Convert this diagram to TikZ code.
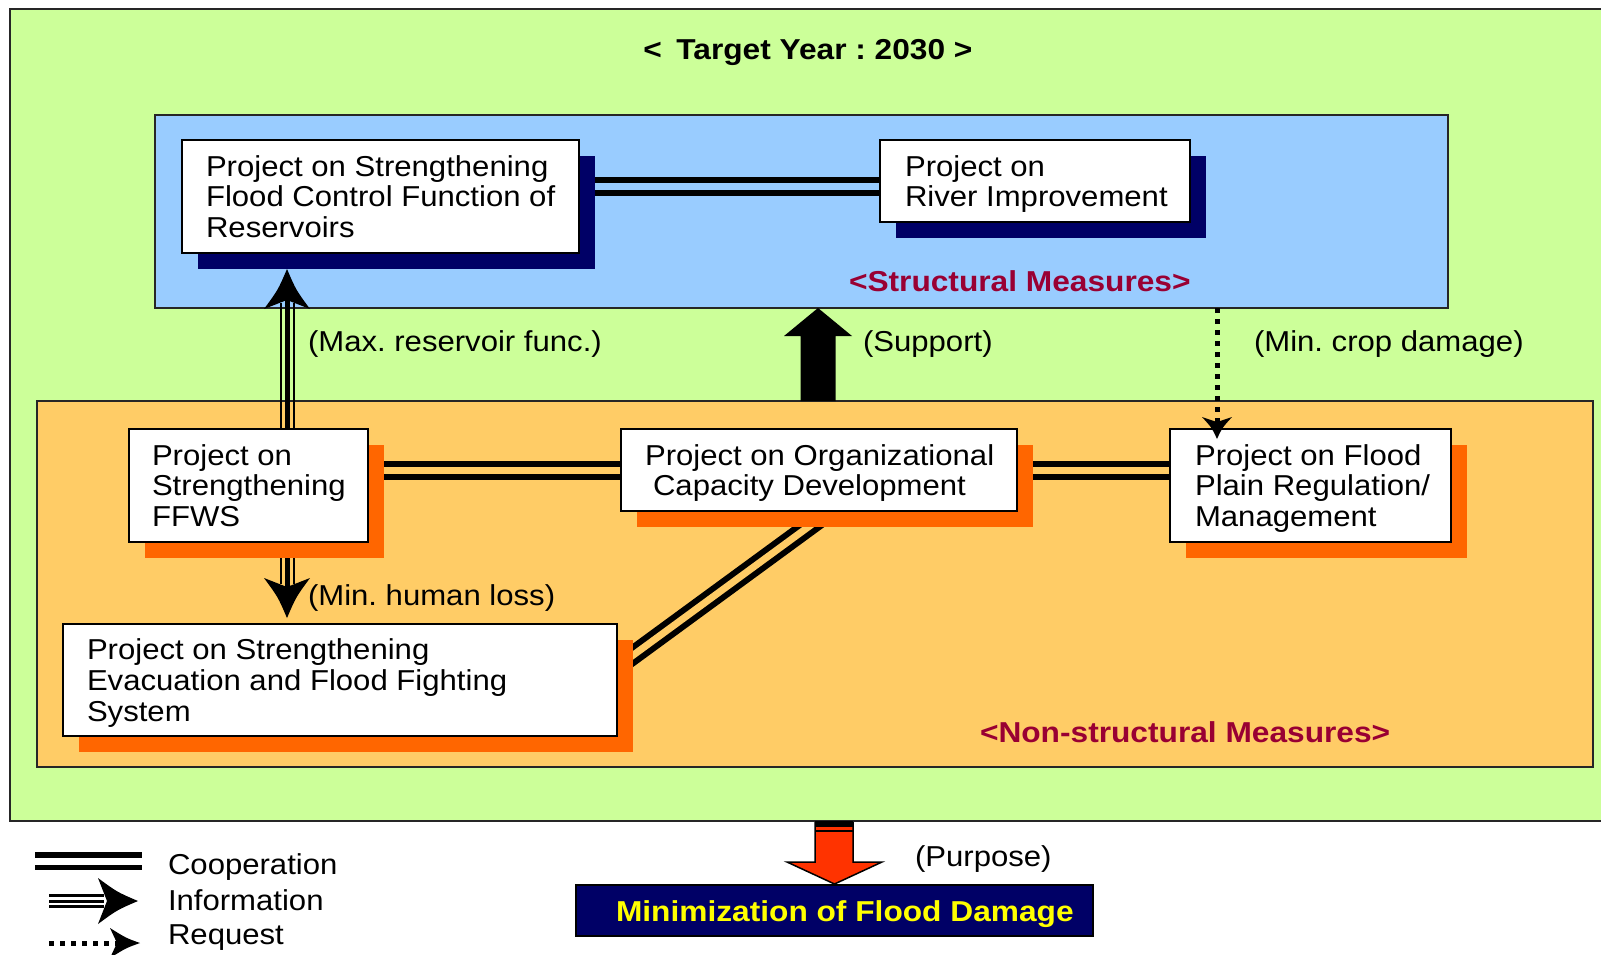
\documentclass[tikz,border=0pt]{standalone}
\usepackage{fontspec}
\setmainfont{Liberation Sans}[FakeStretch=1.08, BoldFeatures={FakeStretch=1.1}]
\usetikzlibrary{calc}
\frenchspacing
\definecolor{gbg}{HTML}{CCFF99}
\definecolor{bbg}{HTML}{99CCFF}
\definecolor{obg}{HTML}{FFCC66}
\definecolor{osh}{HTML}{FF6600}
\definecolor{navy}{HTML}{000066}
\definecolor{dred}{HTML}{990033}
\definecolor{ared}{HTML}{FF3300}
\definecolor{yel}{HTML}{FFFF00}
\pgfdeclarelayer{back}\pgfdeclarelayer{conn}\pgfdeclarelayer{shad}
\pgfsetlayers{back,conn,shad,main}
\newcommand\bodyfnt{\fontsize{14.4}{15.3}\selectfont}
\newcommand\infohd[2]{\fill[shift={(#1)},rotate=#2] (0,0) .. controls (-9,21) .. (-23,40) -- (0,31) -- (23,40) .. controls (9,21) .. (0,0) -- cycle;}
\newcommand\reqhd[2]{\fill[shift={(#1)},rotate=#2] (0,0) .. controls (-5,11) .. (-15,22) -- (0,17) -- (15,22) .. controls (5,11) .. (0,0) -- cycle;}
\begin{document}
\begin{tikzpicture}[x=0.5pt,y=-0.5pt,
  every node/.style={inner sep=0pt, outer sep=0pt},
  txt/.style={font=\bodyfnt, align=left, anchor=west},
  region/.style={draw=black!85, line width=1pt, anchor=north west},
  pbox/.style={draw=black, line width=1pt, fill=white, anchor=north west},
  coop/.style={line width=3pt, double distance=3.5pt},
  infomid/.style={line width=2.5pt},
  infoside/.style={line width=1pt},
  req/.style={line width=2.5pt, dash pattern=on 2.5pt off 3pt}]
\useasboundingbox (0,0) rectangle (1601,954);
% regions
\begin{pgfonlayer}{back}
\fill[white] (0,0) rectangle (1601,954);
\node[region, fill=gbg, minimum width=797pt, minimum height=406pt] (Outer) at (10,9) {};
\node[region, fill=bbg, minimum width=646.5pt, minimum height=96.5pt] (Struct) at (155,115) {};
\node[region, fill=obg, minimum width=778pt, minimum height=183pt] (NonStruct) at (37,401) {};
\end{pgfonlayer}
% boxes
\node[pbox, minimum width=198.5pt, minimum height=56.5pt] (Res) at (182,140) {};
\node[pbox, minimum width=155pt, minimum height=41pt] (River) at (880,140) {};
\node[pbox, minimum width=119.5pt, minimum height=56.5pt] (FFWS) at (129,429) {};
\node[pbox, minimum width=198pt, minimum height=41pt] (Org) at (621,429) {};
\node[pbox, minimum width=140.5pt, minimum height=56.5pt] (FP) at (1170,429) {};
\node[pbox, minimum width=277pt, minimum height=56pt] (Evac) at (63,624) {};
\node[draw=black, line width=1pt, fill=navy, anchor=north west, minimum width=258.5pt, minimum height=25.5pt] (Min) at (576,885) {};
% shadows
\begin{pgfonlayer}{shad}
\fill[navy] ([shift={(8pt,-8pt)}]Res.south west) rectangle ([shift={(8pt,-8pt)}]Res.north east);
\fill[navy] ([shift={(8pt,-8pt)}]River.south west) rectangle ([shift={(8pt,-8pt)}]River.north east);
\fill[osh] ([shift={(8pt,-8pt)}]FFWS.south west) rectangle ([shift={(8pt,-8pt)}]FFWS.north east);
\fill[osh] ([shift={(8pt,-8pt)}]Org.south west) rectangle ([shift={(8pt,-8pt)}]Org.north east);
\fill[osh] ([shift={(8pt,-8pt)}]FP.south west) rectangle ([shift={(8pt,-8pt)}]FP.north east);
\fill[osh] ([shift={(8pt,-8pt)}]Evac.south west) rectangle ([shift={(8pt,-8pt)}]Evac.north east);
\end{pgfonlayer}
% box texts
\node[txt] (ResT) at ([xshift=12pt]Res.west) {Project on Strengthening\\Flood Control Function of\\Reservoirs};
\node[txt] (RiverT) at ([xshift=12.5pt,yshift=-1.5pt]River.west) {Project on\\River Improvement};
\node[txt] (FFWST) at ([xshift=11.5pt]FFWS.west) {Project on\\Strengthening\\FFWS};
\node[txt] (OrgT) at ([xshift=12pt,yshift=-1.5pt]Org.west) {Project on Organizational\\\hspace*{4pt}Capacity Development};
\node[txt] (FPT) at ([xshift=12.5pt,yshift=-1.5pt]FP.west) {Project on Flood\\Plain Regulation/\\Management};
\node[txt] (EvacT) at ([xshift=12pt,yshift=-1.5pt]Evac.west) {Project on Strengthening\\Evacuation and Flood Fighting\\System};
\node[txt, font=\bodyfnt\bfseries, text=yel] (MinT) at (616,914) {Minimization of Flood Damage};
% titles
\node[font=\bodyfnt\bfseries] (title) at (808,52) {<\enspace Target Year : 2030 >};
\node[txt, font=\bodyfnt\bfseries, text=dred] (sm) at (849,281) {<Structural Measures>};
\node[txt, font=\bodyfnt\bfseries, text=dred] (nsm) at (980,732) {<Non-structural Measures>};
% labels
\node[txt] (lMax) at (308,344) {(Max. reservoir func.)};
\node[txt] (lSup) at (863,344) {(Support)};
\node[txt] (lCrop) at (1254,344) {(Min. crop damage)};
\node[txt] (lHum) at (308,598) {(Min. human loss)};
\node[txt] (lPur) at (915,859) {(Purpose)};
% helper coordinates
\coordinate (cy1) at (0,186);
\coordinate (ix) at (287,0);
\coordinate (rx) at (1217,0);
\coordinate (ResSh) at ([yshift=-8pt]Res.south);
\coordinate (upTip) at (ResSh -| ix);
\coordinate (upBot) at (FFWS.north -| ix);
\coordinate (dnTop) at (FFWS.south -| ix);
\coordinate (EvTop) at ([yshift=3pt]Evac.north);
\coordinate (dnTip) at (EvTop -| ix);
\coordinate (rqTop) at (Struct.south -| rx);
\coordinate (FPtop) at ([yshift=-5pt]FP.north);
\coordinate (rqTip) at (FPtop -| rx);
% connectors
\begin{pgfonlayer}{conn}
\draw[coop, double=bbg] (Res.east |- cy1) -- (River.west |- cy1);
\draw[coop, double=obg] (FFWS.east |- Org.west) -- (Org.west);
\draw[coop, double=obg] (Org.east) -- (FP.west |- Org.east);
\draw[coop, double=obg] ($(Org.south west)!0.528!(Org.south east)$) -- ($(Evac.north east)!0.384!(Evac.south east)$);
\draw[infomid] (upBot) -- ([yshift=-15pt]upTip);
\draw[infoside] ([xshift=-3.25pt]upBot) -- ([xshift=-3.25pt,yshift=-17pt]upTip);
\draw[infoside] ([xshift=3.25pt]upBot) -- ([xshift=3.25pt,yshift=-17pt]upTip);
\draw[infomid] (dnTop) -- ([yshift=15pt]dnTip);
\draw[infoside] ([xshift=-3.25pt]dnTop) -- ([xshift=-3.25pt,yshift=17pt]dnTip);
\draw[infoside] ([xshift=3.25pt]dnTop) -- ([xshift=3.25pt,yshift=17pt]dnTip);
\draw[req] (rqTop) -- ([yshift=8pt]rqTip);
\end{pgfonlayer}
\infohd{upTip}{0}
\infohd{dnTip}{180}
\reqhd{rqTip}{180}
% support arrow
\fill[black] (800.5,401) -- (800.5,336) -- (784,336) -- (818,308) -- (852,336) -- (835.5,336) -- (835.5,401) -- cycle;
% purpose arrow
\draw[fill=ared, line width=0.75pt, line join=miter] (815,822) -- (815,862) -- (787,862) -- (834.5,884) -- (882,862) -- (853,862) -- (853,822);
\fill[black] (815,821) rectangle (853,826.5);
\draw[line width=1pt] (815,830.5) -- (853,830.5);
% legend
\coordinate (lgA1) at (35,861); \coordinate (lgA2) at (142,861);
\draw[coop, double=white, line width=2.75pt] (lgA1) -- (lgA2);
\draw[line width=1.5pt] (49,895.5) -- (104,895.5);
\draw[line width=1.5pt] (49,901) -- (104,901);
\draw[line width=1.5pt] (49,906.5) -- (104,906.5);
\coordinate (lgI) at (138,901);
\infohd{lgI}{-90}
\draw[req] (49,943) -- (120,943);
\fill (140,943) .. controls (126,938) .. (110,928) -- (117,943) -- (110,958) .. controls (126,948) .. (140,943) -- cycle;
\node[txt] (lgC) at (168,867) {Cooperation};
\node[txt] (lgIn) at (168,900) {Information};
\node[txt] (lgR) at (168,938) {Request};
\end{tikzpicture}
\end{document}
